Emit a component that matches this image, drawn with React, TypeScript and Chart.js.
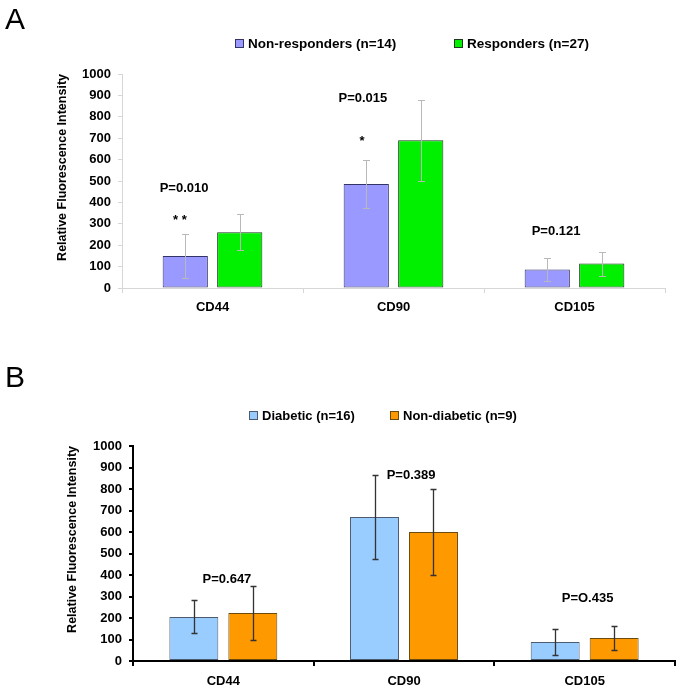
import React, { useEffect, useRef } from 'react';
import { Chart, registerables } from 'chart.js';

Chart.register(...registerables);

const FONT = "'Liberation Sans', Arial, Helvetica, sans-serif";

const categories = ['CD44', 'CD90', 'CD105'];
const yMin = 0;
const yMax = 1000;
const yStep = 100;
const yAxisTitle = 'Relative Fluorescence Intensity';

// Panel A
const aLabels = ['Non-responders (n=14)', 'Responders (n=27)'];
const aNonResponders = [149, 486, 87];
const aResponders = [260, 690, 114];
const aNonRespErr = [102, 112, 54];
const aRespErr = [84, 190, 56];
const aNoteTexts = ['P=0.010', '* *', 'P=0.015', '*', 'P=0.121'];
const aNotePos = [-0.157, -0.18, 0.831, 0.826, 1.898];
const aNoteVals = [463, 318, 888, 687, 266];

// Panel B
const bLabels = ['Diabetic (n=16)', 'Non-diabetic (n=9)'];
const bDiabetic = [205, 670, 88];
const bNonDiabetic = [223, 600, 107];
const bDiabeticErr = [77, 195, 60];
const bNonDiabeticErr = [125, 202, 54];
const bNoteTexts = ['P=0.647', 'P=0.389', 'P=O.435'];
const bNotePos = [0.02, 1.039, 2.016];
const bNoteVals = [381, 865, 293];

function overlayPlugin(
  errors: number[][],
  errColor: string,
  errWidth: number,
  cap: number,
  texts: string[],
  pos: number[],
  vals: number[]
) {
  return {
    id: 'overlay',
    afterDatasetsDraw(chart: any) {
      const ctx = chart.ctx;
      const xs = chart.scales.x;
      const ys = chart.scales.y;
      ctx.save();
      ctx.strokeStyle = errColor;
      ctx.lineWidth = errWidth;
      chart.data.datasets.forEach((ds: any, d: number) => {
        const meta = chart.getDatasetMeta(d);
        meta.data.forEach((bar: any, i: number) => {
          const v = ds.data[i] as number;
          const e = errors[d][i];
          const x = Math.round(bar.x) + 0.5;
          const y1 = Math.round(ys.getPixelForValue(v + e)) + 0.5;
          const y2 = Math.round(ys.getPixelForValue(v - e)) + 0.5;
          ctx.beginPath();
          ctx.moveTo(x, y1);
          ctx.lineTo(x, y2);
          ctx.moveTo(x - cap, y1);
          ctx.lineTo(x + cap, y1);
          ctx.moveTo(x - cap, y2);
          ctx.lineTo(x + cap, y2);
          ctx.stroke();
        });
      });
      ctx.fillStyle = '#000';
      ctx.font = `bold 13px ${FONT}`;
      ctx.textAlign = 'center';
      ctx.textBaseline = 'middle';
      texts.forEach((t, k) => {
        ctx.fillText(t, xs.getPixelForValue(pos[k]), ys.getPixelForValue(vals[k]));
      });
      ctx.restore();
    },
  };
}

function makeConfig(opts: {
  labels: string[];
  s1: number[];
  s2: number[];
  c1: [string, string];
  c2: [string, string];
  catPct: number;
  barPct: number;
  padLeft: number;
  padRight: number;
  padTop: number;
  yWidth: number;
  xHeight: number;
  axisColor: string;
  axisWidth: number;
  xPad: number;
  plugin: any;
}) {
  const tickFont = { family: FONT, size: 13, weight: 'bold' as const };
  return {
    type: 'bar' as const,
    data: {
      labels: categories,
      datasets: [
        {
          label: opts.labels[0],
          data: opts.s1,
          backgroundColor: opts.c1[0],
          borderColor: opts.c1[1],
          borderWidth: 1,
          borderSkipped: false,
          categoryPercentage: opts.catPct,
          barPercentage: opts.barPct,
        },
        {
          label: opts.labels[1],
          data: opts.s2,
          backgroundColor: opts.c2[0],
          borderColor: opts.c2[1],
          borderWidth: 1,
          borderSkipped: false,
          categoryPercentage: opts.catPct,
          barPercentage: opts.barPct,
        },
      ],
    },
    options: {
      responsive: false,
      animation: false as const,
      devicePixelRatio: 1,
      layout: { padding: { left: opts.padLeft, right: opts.padRight, top: opts.padTop, bottom: 0 } },
      plugins: { legend: { display: false }, tooltip: { enabled: false }, title: { display: false } },
      scales: {
        x: {
          grid: {
            display: true,
            drawOnChartArea: false,
            drawTicks: true,
            tickLength: 5,
            color: opts.axisColor,
            lineWidth: opts.axisWidth,
            offset: true,
          },
          border: { display: true, color: opts.axisColor, width: opts.axisWidth },
          ticks: { font: tickFont, color: '#000', padding: opts.xPad, maxRotation: 0 },
          afterFit: (s: any) => {
            s.height = opts.xHeight;
          },
        },
        y: {
          min: yMin,
          max: yMax,
          ticks: {
            stepSize: yStep,
            font: tickFont,
            color: '#000',
            padding: 7,
            callback: (v: any) => String(v),
          },
          grid: {
            display: true,
            drawOnChartArea: false,
            drawTicks: true,
            tickLength: 4,
            color: opts.axisColor,
            lineWidth: opts.axisWidth,
          },
          border: { display: true, color: opts.axisColor, width: opts.axisWidth },
          title: {
            display: true,
            text: yAxisTitle,
            align: 'end' as const,
            color: '#000',
            font: { family: FONT, size: 12.5, weight: 'bold' as const },
            padding: { top: 4, bottom: 4 },
          },
          afterFit: (s: any) => {
            s.width = opts.yWidth;
          },
        },
      },
    },
    plugins: [opts.plugin],
  };
}

const legendText: React.CSSProperties = {
  position: 'absolute',
  font: `bold 13px ${FONT}`,
  lineHeight: '15px',
  color: '#000',
  whiteSpace: 'nowrap',
};

function Swatch({ left, top, fill, border }: { left: number; top: number; fill: string; border: string }) {
  return (
    <div
      style={{
        position: 'absolute',
        left,
        top,
        width: 7,
        height: 7,
        background: fill,
        border: `1px solid ${border}`,
      }}
    />
  );
}

export default function App() {
  const refA = useRef<HTMLCanvasElement>(null);
  const refB = useRef<HTMLCanvasElement>(null);

  useEffect(() => {
    const chartA = new Chart(
      refA.current as HTMLCanvasElement,
      makeConfig({
        labels: aLabels,
        s1: aNonResponders,
        s2: aResponders,
        c1: ['#9999FF', '#333366'],
        c2: ['#00F000', '#1E3A1E'],
        catPct: 0.602,
        barPct: 0.83,
        padLeft: 51,
        padRight: 18,
        padTop: 74,
        yWidth: 71,
        xHeight: 42,
        axisColor: '#d6d6d6',
        axisWidth: 1,
        xPad: 7,
        plugin: overlayPlugin([aNonRespErr, aRespErr], '#b8b8b8', 1, 3.5, aNoteTexts, aNotePos, aNoteVals),
      }) as any
    );
    const chartB = new Chart(
      refB.current as HTMLCanvasElement,
      makeConfig({
        labels: bLabels,
        s1: bDiabetic,
        s2: bNonDiabetic,
        c1: ['#99CCFF', '#4D5B6E'],
        c2: ['#FF9900', '#6B4A10'],
        catPct: 0.653,
        barPct: 0.83,
        padLeft: 61,
        padRight: 8,
        padTop: 116,
        yWidth: 72,
        xHeight: 32,
        axisColor: '#000',
        axisWidth: 2,
        xPad: 8,
        plugin: overlayPlugin([bDiabeticErr, bNonDiabeticErr], '#333', 1.3, 3, bNoteTexts, bNotePos, bNoteVals),
      }) as any
    );
    return () => {
      chartA.destroy();
      chartB.destroy();
    };
  }, []);

  return (
    <div style={{ position: 'absolute', left: 0, top: 0, width: 683, height: 693, background: '#fff', overflow: 'hidden' }}>
      <canvas ref={refA} width={683} height={330} style={{ position: 'absolute', left: 0, top: 0, width: 683, height: 330 }} />
      <canvas ref={refB} width={683} height={363} style={{ position: 'absolute', left: 0, top: 330, width: 683, height: 363 }} />

      <div style={{ position: 'absolute', left: 5, top: 2, font: `30px ${FONT}`, lineHeight: '34px', color: '#000' }}>A</div>
      <div style={{ position: 'absolute', left: 5, top: 360, font: `30px ${FONT}`, lineHeight: '34px', color: '#000' }}>B</div>

      <Swatch left={235} top={39} fill="#9999FF" border="#333366" />
      <div style={{ ...legendText, left: 248, top: 36, fontSize: 13.5 }}>{aLabels[0]}</div>
      <Swatch left={454} top={39} fill="#00F000" border="#1E3A1E" />
      <div style={{ ...legendText, left: 467, top: 36, fontSize: 13.5 }}>{aLabels[1]}</div>

      <Swatch left={249} top={411} fill="#99CCFF" border="#4D5B6E" />
      <div style={{ ...legendText, left: 262, top: 408 }}>{bLabels[0]}</div>
      <Swatch left={390} top={411} fill="#FF9900" border="#6B4A10" />
      <div style={{ ...legendText, left: 403, top: 408 }}>{bLabels[1]}</div>
    </div>
  );
}
